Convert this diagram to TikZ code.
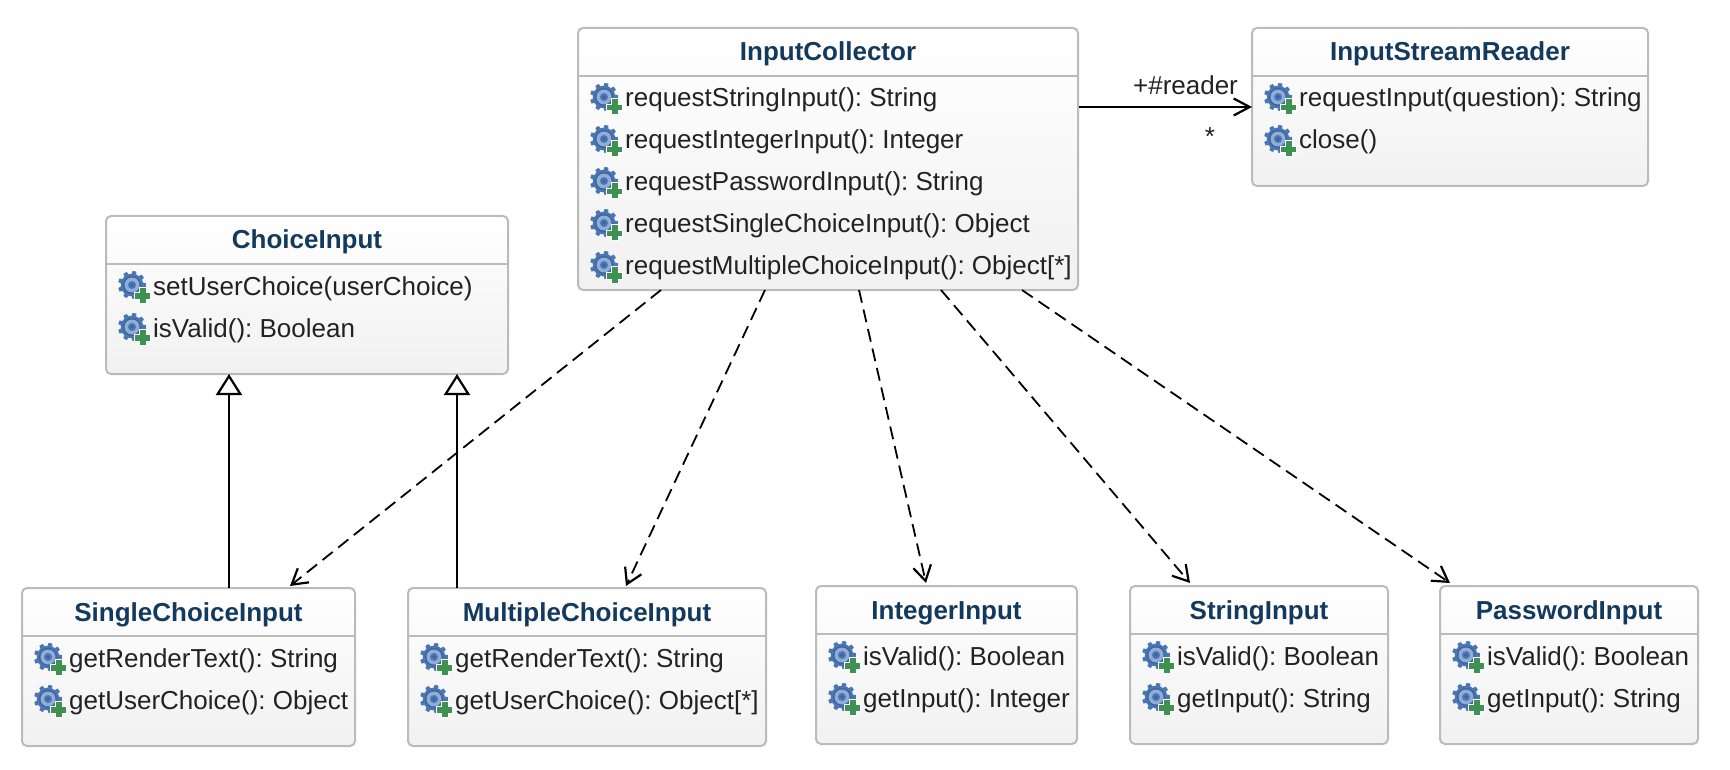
\documentclass[tikz,border=0pt]{standalone}
\usepackage{fontspec}
\setmainfont{Liberation Sans}
\usetikzlibrary{arrows.meta}
\definecolor{boxline}{HTML}{BBBBBB}
\definecolor{boxbot}{HTML}{F1F1F1}
\definecolor{titleblue}{HTML}{133A5E}
\definecolor{bodytext}{HTML}{222222}
\definecolor{gearblue}{HTML}{4A77B3}
\definecolor{gearlight}{HTML}{8FADD6}
\definecolor{geardark}{HTML}{3E639C}
\definecolor{plusgreen}{HTML}{3F9152}
\tikzset{
  classbox/.style={draw=boxline,line width=2pt,rounded corners=5pt,top color=white,bottom color=boxbot,inner sep=0pt,outer sep=0pt},
  divider/.style={draw=boxline,line width=2pt},
  titletext/.style={anchor=base,inner sep=0pt,text=titleblue,font=\fontsize{26}{30}\selectfont\bfseries},
  rowtext/.style={anchor=base west,inner sep=0pt,text=bodytext,font=\fontsize{26}{30}\selectfont\frenchspacing},
  labeltext/.style={anchor=base,inner sep=0pt,text=bodytext,font=\fontsize{26}{30}\selectfont},
  dep/.style={black,line width=1.8pt,dash pattern=on 13pt off 7pt,-{Straight Barb[length=15pt,width=18pt,line width=2.2pt]}},
  assoc/.style={black,line width=2.4pt,-{Straight Barb[length=16pt,width=17pt,line width=2.2pt]}},
  inherit/.style={black,line width=2.2pt,-{Triangle[open,fill=white,length=21pt,width=26pt,line width=2.2pt]}},
  opicon/.pic={
    \fill[gearblue] plot[domain=0:360,samples=91] (\x:{14-(cos(9*\x+10)>0?0:2.8)}) -- cycle;
    \fill[geardark] (0,0) circle (9);
    \fill[gearlight] (0,0) circle (7.5);
    \fill[gearblue] (0,0) circle (4);
    \fill[geardark] (0,0) circle (1.8);
    \fill[white] (1.5,7.3) rectangle (18.5,14.7);
    \fill[white] (7.3,1.5) rectangle (14.7,18.5);
    \fill[plusgreen] (2.5,8) rectangle (17.5,13.5);
    \fill[plusgreen] (8,2.5) rectangle (13.5,17.5);
  }
}
\newcommand{\umlclass}[7]{%
  \pgfmathsetmacro{\ucx}{#2+#4/2}
  \pgfmathsetmacro{\ucy}{#3+#5/2}
  \node[classbox,minimum width=#4pt,minimum height=#5pt] (#1) at (\ucx,\ucy) {};
  \draw[divider] (#2,#3+48) -- (#2+#4,#3+48);
  \node[titletext] (#1-title) at (\ucx,#3+33) {#6};
  \foreach \rowlabel [count=\i] in {#7} {
    \pic at (#2+26,{#3+69+(\i-1)*42}) {opicon};
    \node[rowtext] (#1-row\i) at (#2+47,{#3+79+(\i-1)*42}) {\rowlabel};
  }
}
\begin{document}
\begin{tikzpicture}[x=1pt,y=-1pt]
\useasboundingbox (0,0) rectangle (1730,770);
\umlclass{ic}{578}{28}{500}{262}{InputCollector}{{requestStringInput(): String},{requestIntegerInput(): Integer},{requestPasswordInput(): String},{requestSingleChoiceInput(): Object},{requestMultipleChoiceInput(): Object[*]}}
\umlclass{isr}{1252}{28}{396}{158}{InputStreamReader}{{requestInput(question): String},{close()}}
\umlclass{ci}{106}{216}{402}{158}{ChoiceInput}{{setUserChoice(userChoice)},{isValid(): Boolean}}
\umlclass{sc}{22}{588}{333}{158}{SingleChoiceInput}{{getRenderText(): String},{getUserChoice(): Object}}
\umlclass{mc}{408}{588}{358}{158}{MultipleChoiceInput}{{getRenderText(): String},{getUserChoice(): Object[*]}}
\umlclass{ii}{816}{586}{261}{158}{IntegerInput}{{isValid(): Boolean},{getInput(): Integer}}
\umlclass{si}{1130}{586}{258}{158}{StringInput}{{isValid(): Boolean},{getInput(): String}}
\umlclass{pi}{1440}{586}{258}{158}{PasswordInput}{{isValid(): Boolean},{getInput(): String}}
\draw[assoc] ([yshift=-79pt,xshift=1pt]ic.north east) -- ([yshift=-79pt]isr.north west);
\node[labeltext] (readerlabel) at (1185.5,95) {+\#reader};
\node[labeltext] (starlabel) at (1210,146) {*};
\draw[inherit] ([xshift=207pt]sc.north west) -- ([xshift=123pt]ci.south west);
\draw[inherit] ([xshift=49pt]mc.north west) -- ([xshift=351pt]ci.south west);
\draw[dep] ([xshift=83pt]ic.south west) -- ([xshift=268pt,yshift=2pt]sc.north west);
\draw[dep] ([xshift=187pt]ic.south west) -- ([xshift=218pt,yshift=2pt]mc.north west);
\draw[dep] ([xshift=281pt]ic.south west) -- ([xshift=110pt,yshift=3pt]ii.north west);
\draw[dep] ([xshift=363pt]ic.south west) -- ([xshift=60pt,yshift=3pt]si.north west);
\draw[dep] ([xshift=444pt]ic.south west) -- ([xshift=10pt,yshift=3pt]pi.north west);
\end{tikzpicture}
\end{document}
